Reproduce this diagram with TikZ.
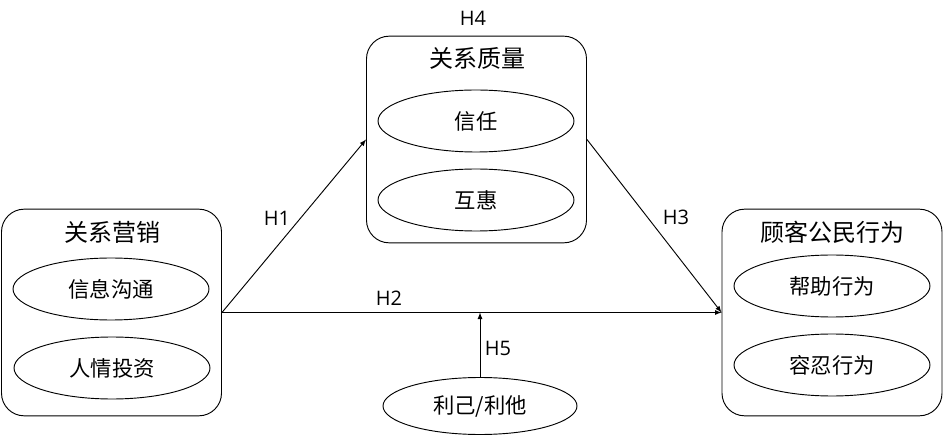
\documentclass[tikz,border=0pt]{standalone}
\usepackage{fontspec}
\setmainfont{Open Sans}
\newfontfamily\cjk{Noto Sans CJK SC}
\usetikzlibrary{arrows, shapes, shapes.geometric, calc}

\tikzset{
	groupbox/.style={draw, rounded corners=17pt, minimum width=165pt, minimum height=155pt, line width=0.7pt},
	facet/.style={draw, ellipse, minimum width=147pt, minimum height=46.5pt, font=\cjk\fontsize{16pt}{18pt}\selectfont, line width=0.7pt, inner sep=0pt},
	grouptitle/.style={font=\cjk\fontsize{18pt}{20pt}\selectfont, inner sep=0pt},
	hyp/.style={font=\fontsize{15pt}{17pt}\selectfont, inner sep=0pt},
	link/.style={-latex, line width=0.7pt}
}

\begin{document}
\begin{tikzpicture}[x=0.75pt, y=-0.75pt]
	\useasboundingbox (0,0) rectangle (946,438);

	% the three groups
	\node[groupbox] (rm) at (111.5,312.5) {};
	\node[groupbox] (rq) at (476.5,139.5) {};
	\node[groupbox] (cb) at (832,312.5) {};

	\node[grouptitle] (rmt) at (112,232) {关系营销};
	\node[grouptitle] (rqt) at (477,58) {关系质量};
	\node[grouptitle] (cbt) at (832,232) {顾客公民行为};

	\node[facet] (info) at (111,289) {信息沟通};
	\node[facet] (favor) at (112,368) {人情投资};
	\node[facet] (trust) at (476,121) {信任};
	\node[facet] (recip) at (476,200) {互惠};
	\node[facet] (help) at (832,286) {帮助行为};
	\node[facet] (toler) at (832,365) {容忍行为};

	\node[facet, minimum width=145.5pt, minimum height=42.75pt] (ego) at (480,406) {利己/利他};

	% hypotheses
	\draw[link] (rm.east) -- (rq.west);
	\draw[link] (rq.east) -- (cb.west);
	\draw[link] (rm.east) -- (cb.west);
	\draw[link] (ego.north) -- (ego.north |- rm.east);

	\node[hyp] at (277,218) {H1};
	\node[hyp] at (389,298) {H2};
	\node[hyp] at (676,217) {H3};
	\node[hyp] at (473,18) {H4};
	\node[hyp] at (498,348) {H5};
\end{tikzpicture}
\end{document}
